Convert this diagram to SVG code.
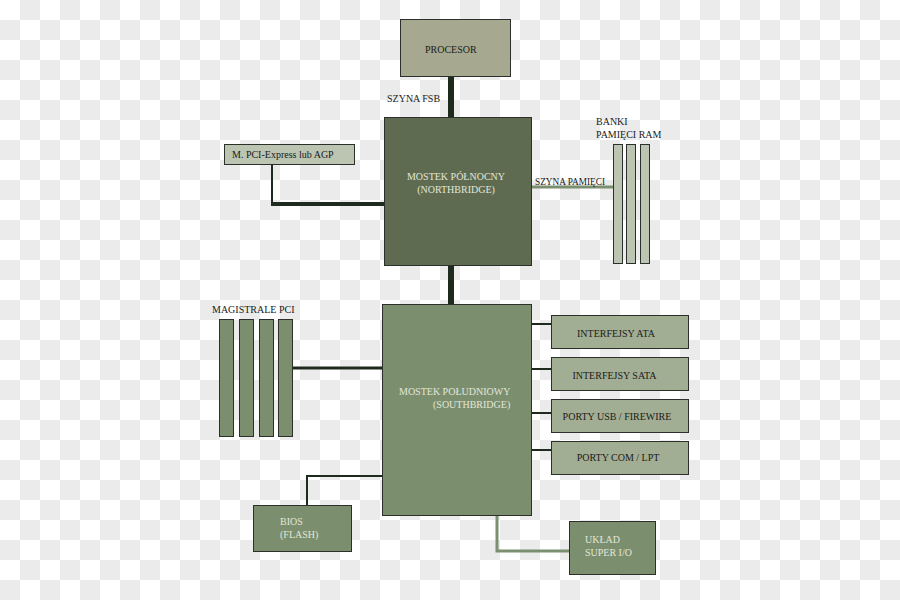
<svg xmlns="http://www.w3.org/2000/svg" width="900" height="600" viewBox="0 0 900 600">
<defs>
<pattern id="chk" x="0" y="0" width="40" height="40" patternUnits="userSpaceOnUse">
<rect width="40" height="40" fill="#ffffff"/>
<rect x="20" y="0" width="20" height="20" fill="#ebebeb"/>
<rect x="0" y="20" width="20" height="20" fill="#ebebeb"/>
</pattern>
<style>
.t{font-family:"Liberation Serif","Times New Roman",serif;font-size:10px;fill:#1a1a1a}
.tl{font-family:"Liberation Serif","Times New Roman",serif;font-size:10px;fill:#e2e6d8}
.box{stroke:#2b302a;stroke-width:1}
.c1{fill:#a6a98f}
.c2{fill:#5e6b51}
.c3{fill:#7b8f6e}
.c4{fill:#bcc5b1}
.c5{fill:#a2ae93}
.dk{stroke:#1e2a1e;fill:none}
.lg{stroke:#7a9070;fill:none}
</style>
</defs>
<rect width="900" height="600" fill="url(#chk)"/>

<g id="connectors">
<line class="dk" x1="451" y1="76" x2="451" y2="117" stroke-width="6"/>
<polyline class="dk" points="272,164 272,204" stroke-width="2"/>
<line class="dk" x1="271" y1="204" x2="384" y2="204" stroke-width="4"/>
<line class="lg" x1="532" y1="187" x2="613" y2="187" stroke-width="3"/>
<line class="dk" x1="451" y1="265" x2="451" y2="304" stroke-width="6"/>
<line class="dk" x1="292" y1="368" x2="382" y2="368" stroke-width="3"/>
<line class="dk" x1="532" y1="324" x2="551" y2="324" stroke-width="2"/>
<line class="dk" x1="532" y1="369" x2="551" y2="369" stroke-width="2"/>
<line class="dk" x1="532" y1="413" x2="551" y2="413" stroke-width="2"/>
<line class="dk" x1="532" y1="450" x2="551" y2="450" stroke-width="2"/>
<polyline class="dk" points="382,476 307,476 307,505" stroke-width="2"/>
<polyline class="lg" points="497,515 497,551 569,551" stroke-width="3"/>
</g>

<text class="t" x="387" y="102">SZYNA FSB</text>
<text class="t" x="535" y="185" font-size="9" textLength="70" lengthAdjust="spacingAndGlyphs">SZYNA PAMIĘCI</text>

<g id="procesor">
<rect class="box c1" x="400.5" y="19.5" width="110" height="57"/>
<text class="t" x="425" y="53">PROCESOR</text>
</g>

<g id="northbridge">
<rect class="box c2" x="384.5" y="117.5" width="147" height="148"/>
<text class="tl" x="456" y="180" text-anchor="middle">MOSTEK PÓŁNOCNY</text>
<text class="tl" x="456" y="193" text-anchor="middle">(NORTHBRIDGE)</text>
</g>

<g id="agp">
<rect class="box c4" x="224.5" y="144.5" width="130" height="20"/>
<text class="t" x="232" y="157.5">M. PCI-Express lub AGP</text>
</g>

<g id="ram">
<text class="t" x="596" y="125">BANKI</text>
<text class="t" x="596" y="138">PAMIĘCI RAM</text>
<rect class="box c4" x="613.5" y="144.5" width="9" height="119"/>
<rect class="box c4" x="626.5" y="144.5" width="9" height="119"/>
<rect class="box c4" x="640.5" y="144.5" width="9" height="119"/>
</g>

<g id="southbridge">
<rect class="box c3" x="382.5" y="304.5" width="149" height="211"/>
<text class="tl" x="399" y="395">MOSTEK POŁUDNIOWY</text>
<text class="tl" x="433" y="408">(SOUTHBRIDGE)</text>
</g>

<g id="pci">
<text class="t" x="212" y="313">MAGISTRALE PCI</text>
<rect class="box c3" x="219.5" y="319.5" width="14" height="117"/>
<rect class="box c3" x="239.5" y="319.5" width="14" height="117"/>
<rect class="box c3" x="259.5" y="319.5" width="14" height="117"/>
<rect class="box c3" x="278.5" y="319.5" width="14" height="117"/>
</g>

<g id="ata">
<rect class="box c5" x="551.5" y="315.5" width="137" height="33"/>
<text class="t" x="616" y="337" text-anchor="middle">INTERFEJSY ATA</text>
</g>
<g id="sata">
<rect class="box c5" x="551.5" y="357.5" width="137" height="33"/>
<text class="t" x="614.5" y="379" text-anchor="middle">INTERFEJSY SATA</text>
</g>
<g id="usb">
<rect class="box c5" x="551.5" y="399.5" width="137" height="33"/>
<text class="t" x="617" y="420" text-anchor="middle">PORTY USB / FIREWIRE</text>
</g>
<g id="com">
<rect class="box c5" x="551.5" y="441.5" width="137" height="33"/>
<text class="t" x="618" y="461" text-anchor="middle">PORTY COM / LPT</text>
</g>

<g id="bios">
<rect class="box c3" x="253.5" y="505.5" width="98" height="46"/>
<text class="tl" x="280" y="525">BIOS</text>
<text class="tl" x="280" y="538">(FLASH)</text>
</g>

<g id="superio">
<rect class="box c3" x="569.5" y="521.5" width="86" height="53"/>
<text class="tl" x="585" y="543">UKŁAD</text>
<text class="tl" x="585" y="556">SUPER I/O</text>
</g>
</svg>
